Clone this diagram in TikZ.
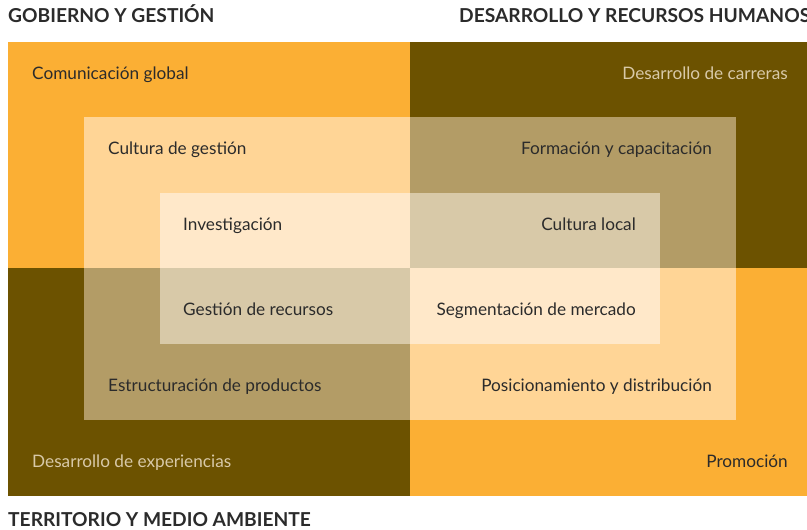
\documentclass[tikz,border=0pt]{standalone}
\usepackage{fontspec}
\setmainfont{Lato}
\definecolor{org}{HTML}{FBAF34}
\definecolor{brn}{HTML}{6C5200}
\definecolor{morg}{HTML}{FFD596}
\definecolor{mbrn}{HTML}{B39C66}
\definecolor{iorg}{HTML}{FFE8C9}
\definecolor{ibrn}{HTML}{D8C9A8}
\definecolor{txt}{HTML}{2B2B2B}
\definecolor{ltxt}{HTML}{D8C9A8}
\begin{document}
\begin{tikzpicture}[x=1pt,y=-1pt,
  lbl/.style={inner sep=0pt, font=\fontsize{17.2}{20}\selectfont, text=txt},
  lightlbl/.style={lbl, text=ltxt},
  hdr/.style={inner sep=0pt, font=\bfseries\fontsize{19.2}{22}\selectfont, text=txt, anchor=base west}]
\useasboundingbox (0,0) rectangle (807,530);
\fill[white] (0,0) rectangle (807,530);
% quadrants
\fill[org] (8,42) rectangle (410,268);
\fill[brn] (410,42) rectangle (807,268);
\fill[brn] (8,268) rectangle (410,496);
\fill[org] (410,268) rectangle (807,496);
% middle frame
\fill[morg] (84,117) rectangle (410,268);
\fill[mbrn] (410,117) rectangle (736,268);
\fill[mbrn] (84,268) rectangle (410,420);
\fill[morg] (410,268) rectangle (736,420);
% inner frame
\fill[iorg] (160,193) rectangle (410,268);
\fill[ibrn] (410,193) rectangle (660,268);
\fill[ibrn] (160,268) rectangle (410,344);
\fill[iorg] (410,268) rectangle (660,344);
% headers
\node[hdr] (h1) at (8,22) {GOBIERNO Y GESTIÓN};
\node[hdr] (h2) at (459,22) {DESARROLLO Y RECURSOS HUMANOS};
\node[hdr] (h3) at (8,526) {TERRITORIO Y MEDIO AMBIENTE};
% labels
\node[lbl, anchor=base west] (a1) at (32,79) {Comunicación global};
\node[lightlbl, anchor=base east] (a2) at (788,79) {Desarrollo de carreras};
\node[lbl, anchor=base west] (b1) at (108,154) {Cultura de gestión};
\node[lbl, anchor=base east] (b2) at (712,154) {Formación y capacitación};
\node[lbl, anchor=base west] (c1) at (183,230) {Investigación};
\node[lbl, anchor=base east] (c2) at (636,230) {Cultura local};
\node[lbl, anchor=base west] (d1) at (183,315) {Gestión de recursos};
\node[lbl, anchor=base east] (d2) at (636,315) {Segmentación de mercado};
\node[lbl, anchor=base west] (e1) at (108,391) {Estructuración de productos};
\node[lbl, anchor=base east] (e2) at (712,391) {Posicionamiento y distribución};
\node[lightlbl, anchor=base west] (f1) at (32,467) {Desarrollo de experiencias};
\node[lbl, anchor=base east] (f2) at (788,467) {Promoción};
\end{tikzpicture}
\end{document}
